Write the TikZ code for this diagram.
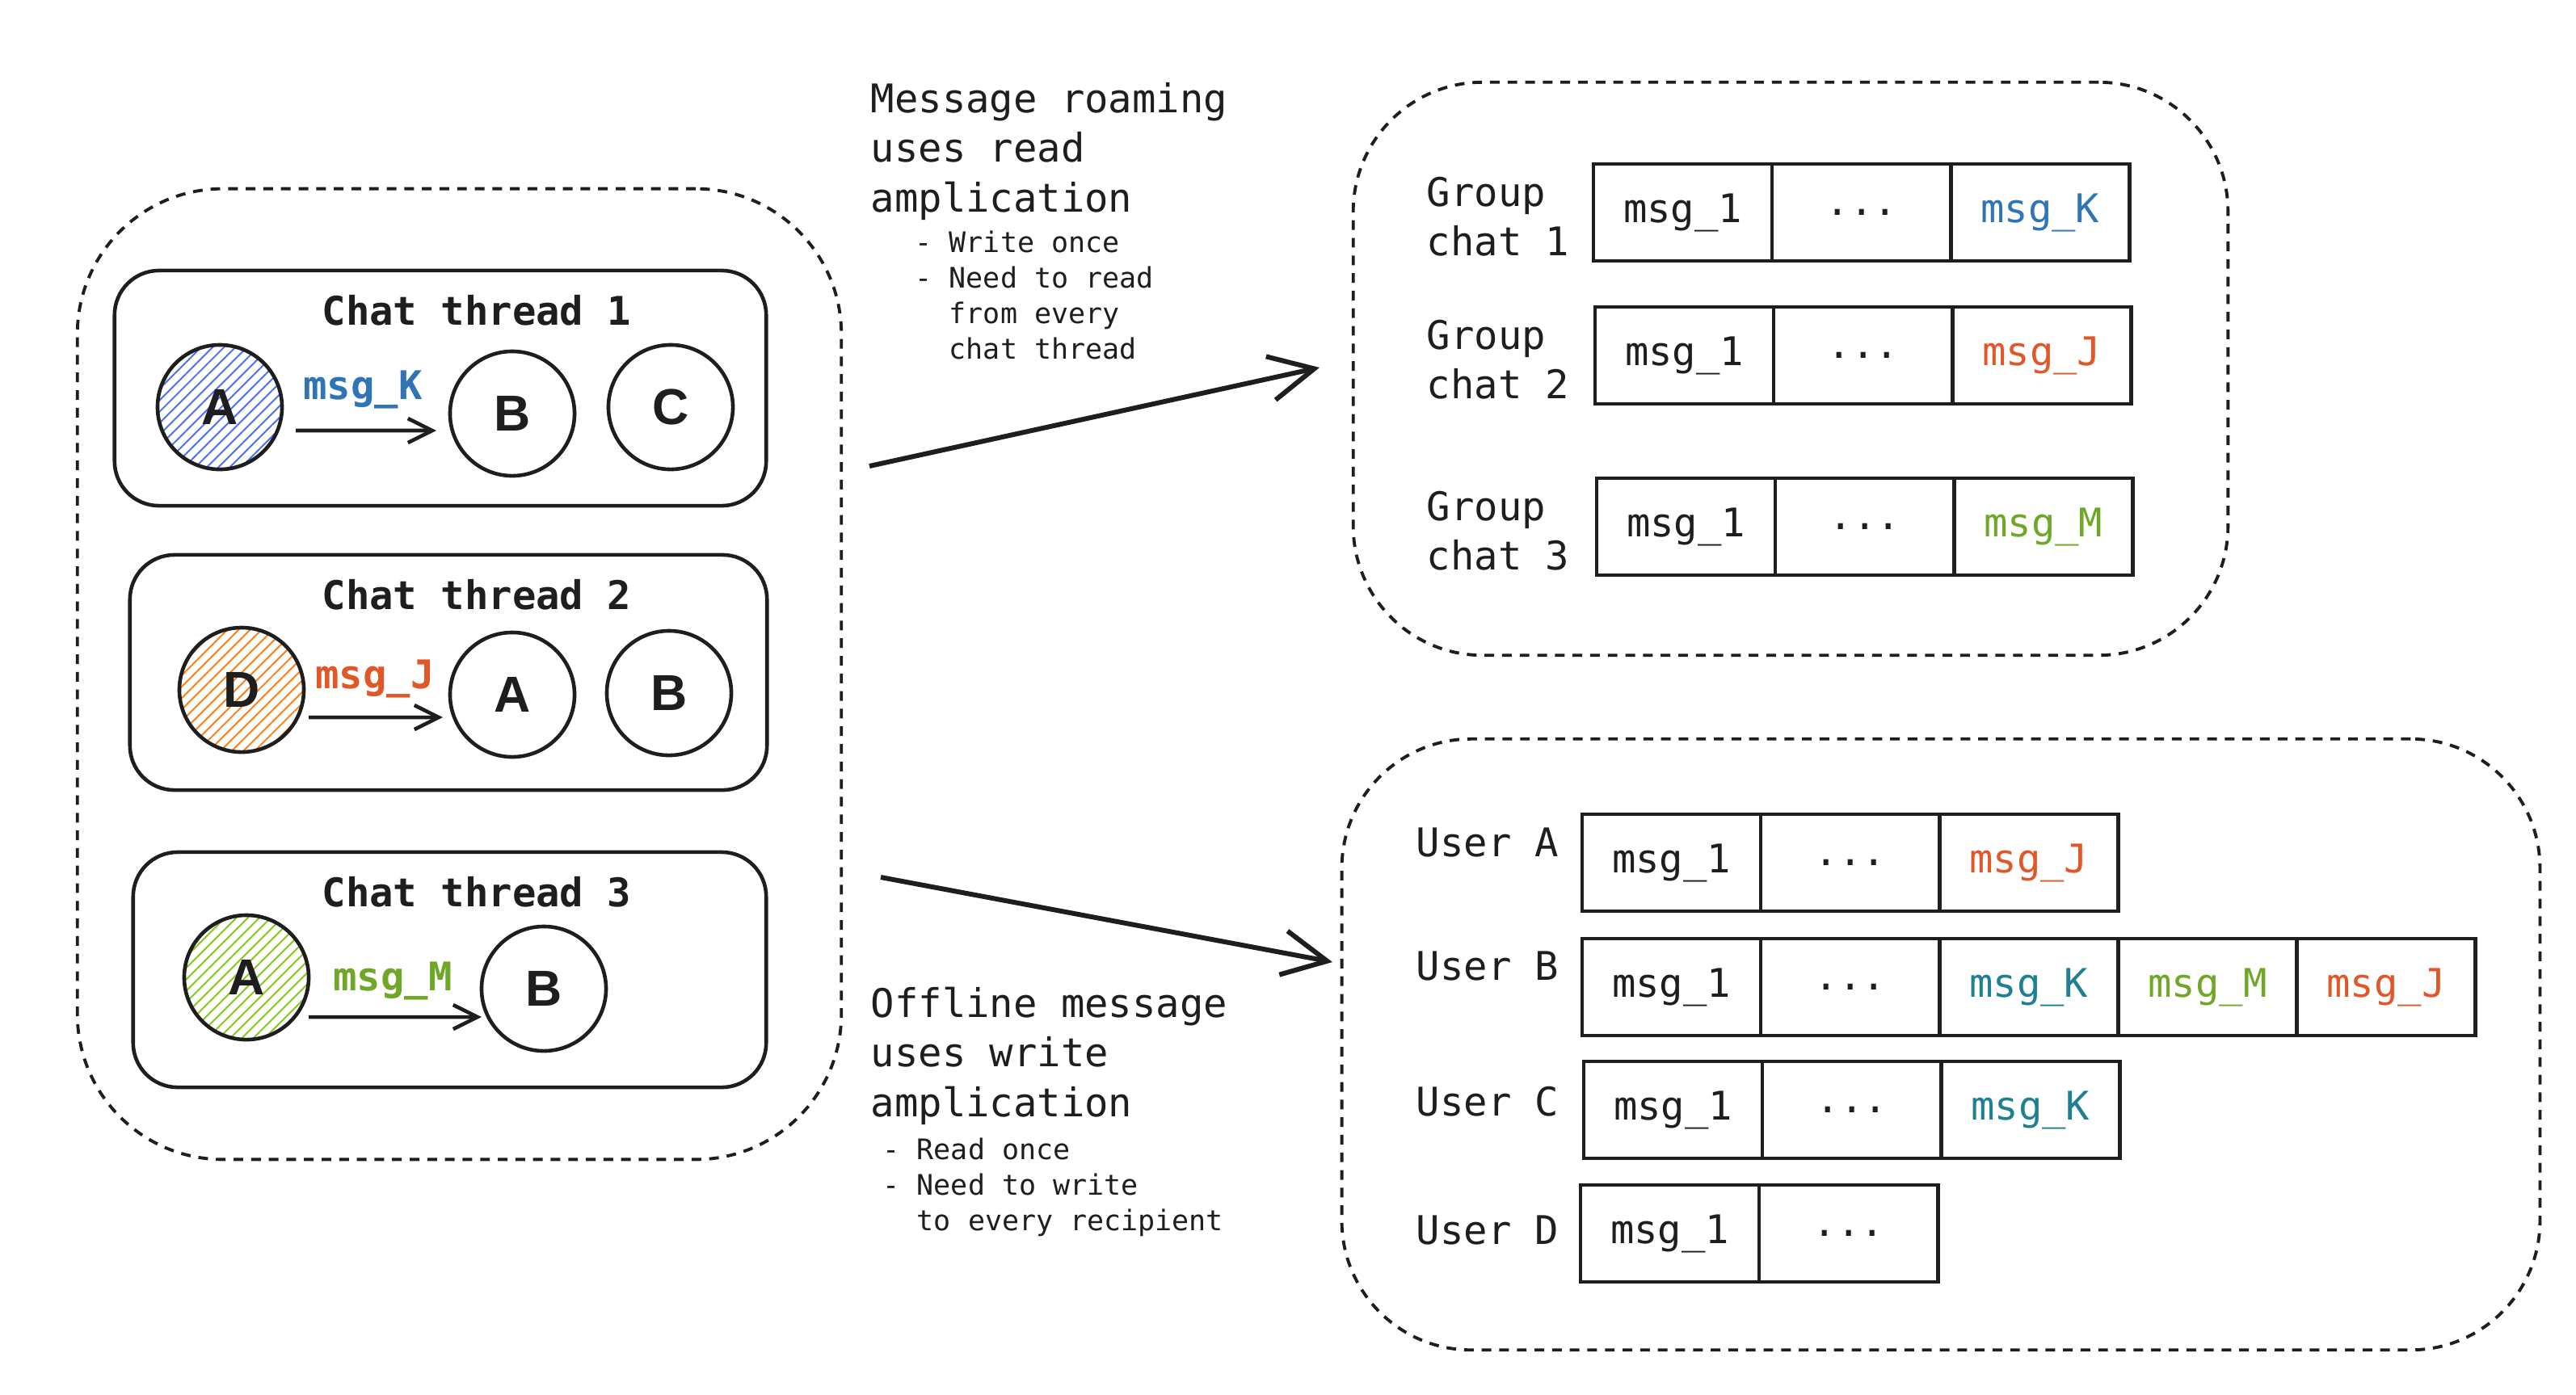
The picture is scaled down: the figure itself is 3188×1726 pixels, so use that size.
\documentclass[tikz,border=0pt]{standalone}
\usepackage{fontspec}
\setmonofont{DejaVu Sans Mono}
\newfontfamily\letterfont{Liberation Sans}
\usetikzlibrary{arrows.meta,patterns.meta,calc}
\definecolor{kblue}{HTML}{2F74B5}
\definecolor{jorange}{HTML}{E0582A}
\definecolor{mgreen}{HTML}{6FA828}
\definecolor{kteal}{HTML}{1E8091}
\definecolor{hblue}{HTML}{4C6EF5}
\definecolor{horange}{HTML}{FD7E14}
\definecolor{hgreen}{HTML}{82C91E}
\definecolor{ink}{HTML}{1E1E1E}
\newcommand\mytxtfont{\fontsize{13.9}{17.4}\selectfont\ttfamily}
\begin{document}
\begin{tikzpicture}[x=0.01cm,y=-0.01cm,
  dashbox/.style={draw=ink, line width=1.1pt, dash pattern=on 3.4pt off 2.8pt, inner sep=0pt, outer sep=0pt},
  thread/.style={draw=ink, line width=1.3pt, rounded corners=0.55cm, minimum height=2.91cm, inner sep=0pt, outer sep=0pt},
  person/.style={draw=ink, circle, line width=1.3pt, minimum size=1.54cm, inner sep=0pt, outer sep=0pt,
    font={\fontsize{17.8}{20}\selectfont\letterfont\bfseries}, text=ink},
  hatch/.style={pattern={Lines[angle=45,distance=0.1cm,line width=0.55pt]}, pattern color=#1},
  cell/.style={draw=ink, line width=1.3pt, minimum width=2.21cm, minimum height=1.2cm, inner sep=0pt, outer sep=0pt,
    anchor=west, font=\mytxtfont, text=ink},
  title/.style={font={\mytxtfont\bfseries}, text=ink, inner sep=0pt},
  lbl/.style={font=\mytxtfont, text=ink, align=left, inner sep=0pt, anchor=west},
  msglbl/.style={font={\mytxtfont\bfseries}, text=#1, inner sep=0pt},
  sarrow/.style={draw=ink, line width=1.3pt, -{Straight Barb[length=0.3cm,width=0.3cm]}},
  barrow/.style={draw=ink, line width=1.7pt, -{Straight Barb[length=0.55cm,width=0.55cm]}},
  bigtxt/.style={font=\mytxtfont, text=ink, align=left, inner sep=0pt, anchor=base west},
  smalltxt/.style={font={\fontsize{9.95}{12.43}\selectfont\ttfamily}, text=ink, align=left, inner sep=0pt, anchor=base west}
]
\fill[white] (0,0) rectangle (3188,1726);
\useasboundingbox (0,0) rectangle (3188,1726);

% ---------- left: chat threads ----------
\node[dashbox, rounded corners=1.8cm, minimum width=9.45cm, minimum height=12.01cm] (left) at (568.5,834.5) {};

\node[thread, minimum width=8.06cm] (t1) at (545,480.5) {};
\node[thread, minimum width=7.88cm] (t2) at (555,832.5) {};
\node[thread, minimum width=7.83cm] (t3) at (556.5,1200.5) {};

\node[title] (t1title) at (590,384) {Chat thread 1};
\node[title] (t2title) at (590,736) {Chat thread 2};
\node[title] (t3title) at (590,1104) {Chat thread 3};

\node[person, hatch=hblue] (A1) at (272,504) {A};
\node[person] (B1) at (634,512) {B};
\node[person] (C1) at (830,504) {C};

\node[person, hatch=horange] (D2) at (299,854) {D};
\node[person] (A2) at (634,860) {A};
\node[person] (B2) at (828,858) {B};

\node[person, hatch=hgreen] (A3) at (305,1210) {A};
\node[person] (B3) at (673,1224) {B};

\node[msglbl=kblue] (k1) at (449,482) {msg\_K};
\node[msglbl=jorange] (j2) at (464,840) {msg\_J};
\node[msglbl=mgreen] (m3) at (486,1214) {msg\_M};

\draw[sarrow, shorten <=0.17cm, shorten >=0.17cm] ([yshift=-0.29cm]A1.east) -- ([yshift=-0.21cm]B1.west);
\draw[sarrow, shorten <=0.06cm, shorten >=0.09cm] ([yshift=-0.34cm]D2.east) -- ([yshift=-0.28cm]A2.west);
\draw[sarrow] ([yshift=-0.49cm]A3.east) -- ([yshift=-0.35cm]B3.west);

% ---------- middle texts and arrows ----------
\node[bigtxt] (roam) at (1077,262) {Message roaming\\uses read\\amplication};
\node[smalltxt] (roamsub) at (1132,444) {- Write once\\- Need to read\\\phantom{- }from every\\\phantom{- }chat thread};

\node[bigtxt] (offl) at (1077,1382) {Offline message\\uses write\\amplication};
\node[smalltxt] (offlsub) at (1092,1523) {- Read once\\- Need to write\\\phantom{- }to every recipient};

\coordinate (ra0) at (1076,577);
\coordinate (ra1) at (1633,455);
\coordinate (wa0) at (1090,1086);
\coordinate (wa1) at (1649,1191);
\draw[barrow] (ra0) -- (ra1);
\draw[barrow] (wa0) -- (wa1);

% ---------- top right: group chats ----------
\node[dashbox, rounded corners=1.6cm, minimum width=10.82cm, minimum height=7.09cm] (groups) at (2216,456.5) {};

\node[lbl] (g1l) at (1765,268) {Group\\chat 1};
\node[lbl] (g2l) at (1765,445) {Group\\chat 2};
\node[lbl] (g3l) at (1765,657) {Group\\chat 3};

\node[cell] (g1a) at (1972,263) {msg\_1};
\node[cell] (g1b) at (g1a.east) {...};
\node[cell, text=kblue] (g1c) at (g1b.east) {msg\_K};

\node[cell] (g2a) at (1974,440) {msg\_1};
\node[cell] (g2b) at (g2a.east) {...};
\node[cell, text=jorange] (g2c) at (g2b.east) {msg\_J};

\node[cell] (g3a) at (1976,652) {msg\_1};
\node[cell] (g3b) at (g3a.east) {...};
\node[cell, text=mgreen] (g3c) at (g3b.east) {msg\_M};

% ---------- bottom right: users ----------
\node[dashbox, rounded corners=1.6cm, minimum width=14.82cm, minimum height=7.56cm] (users) at (2402,1293) {};

\node[lbl] (uAl) at (1752,1043) {User A};
\node[lbl] (uBl) at (1752,1196) {User B};
\node[lbl] (uCl) at (1752,1364) {User C};
\node[lbl] (uDl) at (1752,1523) {User D};

\node[cell] (uAa) at (1958,1068) {msg\_1};
\node[cell] (uAb) at (uAa.east) {...};
\node[cell, text=jorange] (uAc) at (uAb.east) {msg\_J};

\node[cell] (uBa) at (1958,1222) {msg\_1};
\node[cell] (uBb) at (uBa.east) {...};
\node[cell, text=kteal] (uBc) at (uBb.east) {msg\_K};
\node[cell, text=mgreen] (uBd) at (uBc.east) {msg\_M};
\node[cell, text=jorange] (uBe) at (uBd.east) {msg\_J};

\node[cell] (uCa) at (1960,1374) {msg\_1};
\node[cell] (uCb) at (uCa.east) {...};
\node[cell, text=kteal] (uCc) at (uCb.east) {msg\_K};

\node[cell] (uDa) at (1956,1527) {msg\_1};
\node[cell] (uDb) at (uDa.east) {...};
\end{tikzpicture}
\end{document}
